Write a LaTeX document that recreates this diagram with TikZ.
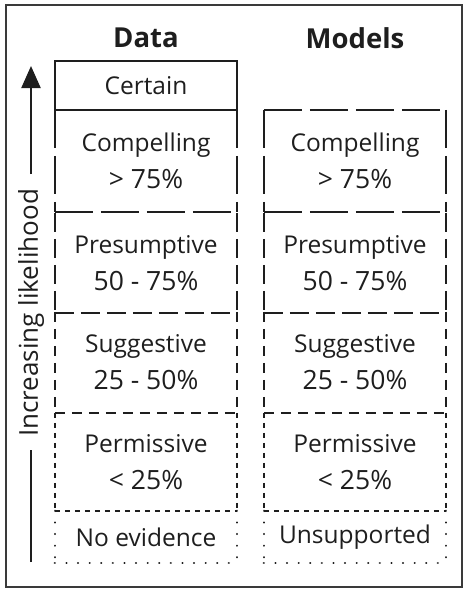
\documentclass[tikz,border=0pt]{standalone}
\usepackage{fontspec}
\setmainfont{Open Sans}
\usetikzlibrary{arrows.meta}
\definecolor{ink}{HTML}{1E1E1E}
\definecolor{framec}{HTML}{3A3A3A}
\newcommand{\secline}{\fontsize{26.5}{37}\selectfont}
\begin{document}
\begin{tikzpicture}[x=1pt,y=-1pt,
  cell/.style={minimum width=182pt, inner sep=0pt, align=center, text=ink,
    font=\fontsize{24.5}{37}\selectfont},
  head/.style={inner sep=0pt, text=ink, font=\fontsize{27.5}{30}\selectfont\bfseries},
  ln/.style={line width=2.2pt, draw=ink},
  dA/.style={ln, dash pattern=on 38pt off 8pt},
  dB/.style={ln, dash pattern=on 19pt off 7pt},
  dC/.style={ln, dash pattern=on 10pt off 7pt},
  dD/.style={ln, dash pattern=on 5pt off 5pt},
  dE/.style={ln, line cap=round, dash pattern=on 0.1pt off 11.5pt},
]
\useasboundingbox (0,0) rectangle (469,600);
\draw[line width=2.5pt, draw=framec] (6,5) rectangle (462,587);

% headers
\node[head] (hdata) at (146,38) {Data};
\node[head] (hmod) at (355,38) {Models};

% Data column
\node[cell, minimum height=49pt]  (dcert) at (146,85.5) {Certain};
\node[cell, minimum height=102pt] (dcomp) at (146,161) {Compelling\\\secline > 75\%};
\node[cell, minimum height=100pt] (dpres) at (146,263) {Presumptive\\\secline 50 - 75\%};
\node[cell, minimum height=101pt] (dsugg) at (146,362.5) {Suggestive\\\secline 25 - 50\%};
\node[cell, minimum height=98pt]  (dperm) at (146,462) {Permissive\\\secline < 25\%};
\node[cell, minimum height=52pt]  (dnone) at (146,537) {No evidence};

% Models column
\node[cell, minimum height=102pt] (mcomp) at (355,161) {Compelling\\\secline > 75\%};
\node[cell, minimum height=100pt] (mpres) at (355,263) {Presumptive\\\secline 50 - 75\%};
\node[cell, minimum height=101pt] (msugg) at (355,362.5) {Suggestive\\\secline 25 - 50\%};
\node[cell, minimum height=98pt]  (mperm) at (355,462) {Permissive\\\secline < 25\%};
\node[cell, minimum height=52pt]  (mnone) at (355,537) {Unsupported};

% frames
\draw[ln] (dcert.north west) rectangle (dcert.south east);
\foreach \n/\s in {dcomp/dA, dpres/dB, dsugg/dC, dperm/dD, dnone/dE,
                   mpres/dB, msugg/dC, mperm/dD, mnone/dE}{
  \draw[\s] (\n.north west) -- (\n.south west);
  \draw[\s] (\n.north east) -- (\n.south east);
  \draw[\s] (\n.south west) -- (\n.south east);
}
\draw[dA] (mcomp.north west) -- (mcomp.north east);
\draw[dA] (mcomp.north west) -- (mcomp.south west);
\draw[dA] (mcomp.north east) -- (mcomp.south east);
\draw[dA] (mcomp.south west) -- (mcomp.south east);

% axis
\node[rotate=90, inner sep=0pt, text=ink, font=\fontsize{26}{30}\selectfont] (axlbl) at (31,313) {Increasing likelihood};
\coordinate (abot) at (31,562);
\coordinate (atop) at (31,66);
\coordinate (lbot) at (31,450);
\coordinate (ltop) at (31,174);
\draw[ln] (abot) -- (lbot);
\draw[ln, -{Triangle[width=19pt,length=22pt]}] (ltop) -- (atop);
\end{tikzpicture}
\end{document}
